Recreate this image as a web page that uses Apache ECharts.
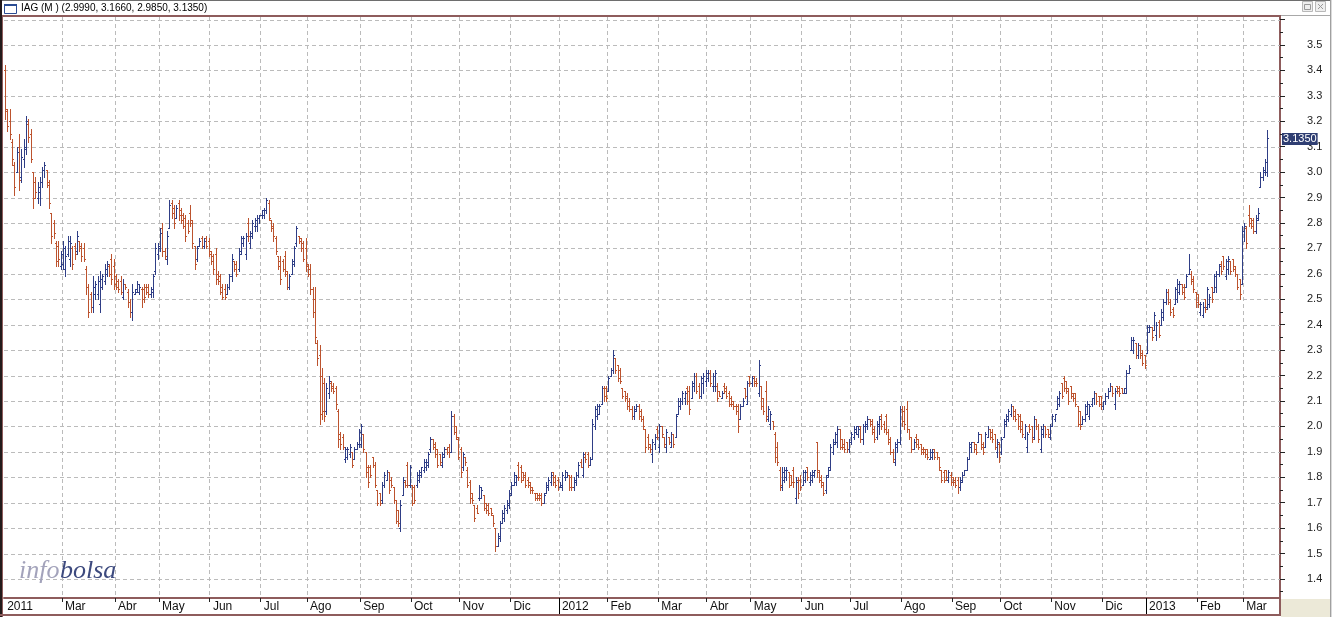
<!DOCTYPE html>
<html><head><meta charset="utf-8">
<script src="https://cdn.jsdelivr.net/npm/echarts@6/dist/echarts.min.js"></script>
<style>html,body{margin:0;padding:0;background:#fff;overflow:hidden}#c{width:1332px;height:617px}</style>
</head><body><div id="c"></div>
<script>
// ---- data ----
const monthLabels = ['2011','Mar','Abr','May','Jun','Jul','Ago','Sep','Oct','Nov','Dic',
  '2012','Feb','Mar','Abr','May','Jun','Jul','Ago','Sep','Oct','Nov','Dic','2013','Feb','Mar'];
const monthLengths = [25,23,19,22,22,20,23,22,21,22,21, 21,22,21,19,22,21,22,22,21,22,22,19, 22,20,11];
const yTickLabels = [1.4,1.5,1.6,1.7,1.8,1.9,2.0,2.1,2.2,2.3,2.4,2.5,2.6,2.7,2.8,2.9,3.0,3.1,3.2,3.3,3.4,3.5];
const yMajorTicks = [1.4,1.5,1.6,1.7,1.8,1.9,2.0,2.1,2.2,2.3,2.4,2.5,2.6,2.7,2.8,2.9,3.0,3.1,3.2,3.3,3.4,3.5,3.6];
const yMinorTicks = [1.35,1.45,1.55,1.65,1.75,1.85,1.95,2.05,2.15,2.25,2.35,2.45,2.55,2.65,2.75,2.85,2.95,3.05,3.15,3.25,3.35,3.45,3.55];
// [open, high, low, close]
const ohlc2011 = [
[3.40,3.42,3.21,3.25],[3.24,3.25,3.16,3.18],[3.20,3.25,3.13,3.15],[3.12,3.13,3.03,3.05],[3.03,3.04,2.91,2.94],
[3.00,3.10,3.00,3.08],[3.10,3.15,2.93,2.97],[2.98,3.09,2.96,3.06],[3.05,3.13,3.02,3.10],[3.09,3.22,3.07,3.20],
[3.19,3.21,3.12,3.14],[3.15,3.17,3.04,3.05],[3.00,3.00,2.86,2.90],[2.96,2.98,2.90,2.92],[2.90,2.96,2.88,2.94],
[2.92,2.98,2.87,2.96],[2.96,3.02,2.94,3.01],[3.01,3.04,2.98,3.03],[3.01,3.01,2.94,2.96],[2.95,2.97,2.86,2.88],
[2.84,2.84,2.72,2.75],[2.80,2.81,2.74,2.76],[2.72,2.73,2.63,2.65],[2.71,2.73,2.63,2.66],[2.63,2.69,2.62,2.68],
[2.64,2.73,2.62,2.70],[2.62,2.71,2.59,2.67],[2.68,2.75,2.67,2.73],[2.66,2.75,2.63,2.72],[2.70,2.71,2.62,2.64],
[2.71,2.72,2.66,2.68],[2.69,2.77,2.68,2.75],[2.73,2.73,2.69,2.70],[2.71,2.72,2.65,2.67],[2.70,2.72,2.65,2.66],
[2.62,2.63,2.52,2.55],[2.55,2.56,2.43,2.45],[2.52,2.53,2.45,2.47],[2.47,2.59,2.45,2.55],[2.52,2.57,2.50,2.56],
[2.52,2.59,2.50,2.57],[2.48,2.61,2.45,2.58],[2.55,2.60,2.54,2.59],[2.57,2.64,2.56,2.62],[2.60,2.65,2.59,2.64],
[2.63,2.64,2.59,2.60],[2.66,2.68,2.56,2.58],[2.63,2.66,2.54,2.56],
[2.59,2.60,2.54,2.55],[2.57,2.58,2.53,2.54],[2.57,2.59,2.52,2.53],[2.51,2.58,2.50,2.56],[2.56,2.56,2.54,2.55],
[2.53,2.54,2.47,2.49],[2.49,2.50,2.43,2.45],[2.45,2.56,2.42,2.53],[2.52,2.54,2.52,2.54],[2.53,2.57,2.53,2.56],
[2.53,2.56,2.52,2.55],[2.54,2.55,2.47,2.50],[2.54,2.56,2.49,2.51],[2.55,2.56,2.52,2.53],[2.55,2.56,2.51,2.52],
[2.52,2.55,2.51,2.54],[2.53,2.60,2.51,2.59],[2.61,2.72,2.60,2.70],[2.68,2.72,2.66,2.71],
[2.70,2.78,2.69,2.76],[2.78,2.80,2.67,2.69],[2.69,2.70,2.66,2.67],[2.66,2.77,2.64,2.75],[2.78,2.89,2.78,2.87],
[2.88,2.89,2.82,2.84],[2.86,2.87,2.78,2.80],[2.82,2.87,2.82,2.86],[2.88,2.89,2.81,2.83],[2.85,2.86,2.80,2.81],
[2.83,2.84,2.78,2.79],[2.82,2.83,2.73,2.75],[2.80,2.81,2.76,2.77],[2.84,2.87,2.79,2.81],[2.80,2.81,2.70,2.72],
[2.71,2.71,2.62,2.64],[2.66,2.71,2.65,2.70],[2.71,2.74,2.71,2.73],[2.74,2.75,2.70,2.71],[2.71,2.74,2.70,2.73],
[2.74,2.75,2.70,2.71],[2.73,2.74,2.67,2.68],
[2.69,2.69,2.64,2.65],[2.67,2.68,2.60,2.62],[2.68,2.70,2.56,2.58],[2.60,2.61,2.56,2.57],[2.59,2.60,2.52,2.53],
[2.55,2.56,2.50,2.51],[2.54,2.56,2.50,2.51],[2.52,2.56,2.52,2.55],[2.55,2.60,2.54,2.59],[2.59,2.68,2.57,2.66],
[2.65,2.65,2.61,2.62],[2.64,2.65,2.59,2.60],[2.62,2.70,2.61,2.68],[2.69,2.75,2.68,2.74],[2.72,2.75,2.71,2.74],
[2.68,2.76,2.66,2.75],[2.80,2.82,2.73,2.75],[2.72,2.77,2.70,2.76],[2.75,2.81,2.74,2.80],[2.79,2.82,2.77,2.81],
[2.79,2.83,2.77,2.82],[2.82,2.83,2.80,2.83],
[2.83,2.85,2.82,2.85],[2.83,2.86,2.82,2.85],[2.85,2.90,2.84,2.89],[2.88,2.89,2.81,2.82],[2.81,2.81,2.77,2.78],
[2.79,2.80,2.73,2.75],[2.74,2.75,2.68,2.69],[2.67,2.67,2.62,2.63],[2.65,2.67,2.56,2.58],[2.65,2.66,2.61,2.62],
[2.67,2.69,2.59,2.61],[2.60,2.61,2.54,2.55],[2.55,2.60,2.54,2.59],[2.60,2.66,2.60,2.65],[2.64,2.71,2.63,2.70],
[2.72,2.79,2.71,2.78],[2.75,2.75,2.72,2.73],[2.74,2.74,2.69,2.70],[2.72,2.73,2.65,2.66],[2.70,2.74,2.61,2.63],
[2.64,2.64,2.59,2.60],[2.62,2.64,2.52,2.54],[2.54,2.55,2.43,2.45],[2.50,2.55,2.33,2.35],[2.33,2.34,2.24,2.27],
[2.28,2.32,2.01,2.05],[2.20,2.23,2.03,2.06],[2.17,2.19,2.02,2.04],[2.06,2.17,2.05,2.15],[2.13,2.20,2.11,2.18],
[2.17,2.18,2.14,2.15],[2.16,2.17,2.13,2.14],[2.15,2.16,2.07,2.09],[2.06,2.07,1.92,1.95],[1.97,1.98,1.91,1.93],
[1.96,1.97,1.91,1.92],[1.87,1.92,1.86,1.91],[1.88,1.92,1.87,1.91],[1.89,1.93,1.88,1.92],[1.90,1.90,1.84,1.85],
[1.87,1.92,1.87,1.91],[1.91,1.94,1.91,1.93],[1.93,1.99,1.92,1.98],
[1.93,2.01,1.92,2.00],[1.97,1.97,1.90,1.91],[1.90,1.90,1.80,1.82],[1.84,1.85,1.76,1.78],[1.84,1.85,1.80,1.81],
[1.88,1.88,1.84,1.85],[1.85,1.86,1.76,1.77],[1.75,1.75,1.69,1.70],[1.74,1.74,1.69,1.70],[1.71,1.78,1.70,1.77],
[1.77,1.82,1.76,1.81],[1.79,1.83,1.79,1.82],[1.82,1.82,1.74,1.75],[1.79,1.80,1.76,1.77],[1.76,1.76,1.70,1.71],
[1.71,1.71,1.62,1.63],[1.67,1.67,1.61,1.62],[1.60,1.71,1.59,1.69],[1.73,1.80,1.73,1.79],[1.78,1.79,1.76,1.77],
[1.85,1.86,1.76,1.77],[1.77,1.85,1.76,1.84],
[1.77,1.77,1.69,1.70],[1.76,1.77,1.70,1.71],[1.77,1.82,1.76,1.81],[1.79,1.83,1.78,1.82],[1.81,1.84,1.80,1.84],
[1.83,1.87,1.82,1.86],[1.84,1.87,1.83,1.86],[1.85,1.90,1.84,1.89],[1.91,1.96,1.90,1.95],[1.95,1.95,1.91,1.92],
[1.93,1.94,1.88,1.89],[1.91,1.91,1.84,1.85],[1.89,1.89,1.85,1.86],[1.85,1.90,1.84,1.89],[1.88,1.92,1.88,1.91],
[1.91,1.92,1.89,1.90],[1.92,1.93,1.88,1.90],[1.90,2.06,1.90,2.04],[2.04,2.05,1.97,1.98],[2.00,2.00,1.95,1.96],
[1.95,1.96,1.87,1.88],
[1.91,1.92,1.80,1.82],[1.84,1.90,1.83,1.89],[1.88,1.88,1.85,1.86],[1.83,1.84,1.76,1.77],[1.78,1.79,1.70,1.72],
[1.74,1.74,1.70,1.71],[1.69,1.69,1.63,1.64],[1.68,1.69,1.66,1.66],[1.72,1.77,1.71,1.76],[1.72,1.76,1.72,1.75],
[1.73,1.73,1.67,1.68],[1.70,1.70,1.66,1.67],[1.69,1.70,1.65,1.66],[1.68,1.68,1.65,1.66],[1.65,1.65,1.61,1.62],
[1.60,1.60,1.51,1.53],[1.53,1.58,1.53,1.57],[1.56,1.63,1.55,1.62],[1.62,1.67,1.62,1.66],[1.64,1.69,1.63,1.68],
[1.67,1.71,1.66,1.70],[1.69,1.75,1.68,1.74],
[1.73,1.78,1.73,1.77],[1.77,1.82,1.77,1.81],[1.78,1.81,1.77,1.80],[1.85,1.86,1.79,1.80],[1.84,1.85,1.78,1.79],
[1.82,1.82,1.79,1.80],[1.81,1.82,1.76,1.77],[1.79,1.80,1.76,1.77],[1.78,1.78,1.74,1.75],[1.76,1.76,1.74,1.75],
[1.74,1.74,1.71,1.72],[1.74,1.74,1.71,1.72],[1.73,1.74,1.71,1.72],[1.73,1.74,1.69,1.70],[1.70,1.74,1.70,1.73],
[1.74,1.78,1.74,1.77],[1.76,1.80,1.75,1.79],[1.78,1.82,1.77,1.81],[1.82,1.82,1.77,1.78],[1.80,1.81,1.76,1.77],
[1.79,1.80,1.75,1.76]
];
const ohlc2012 = [
[1.76,1.78,1.76,1.77],[1.76,1.82,1.75,1.81],[1.80,1.83,1.79,1.82],[1.80,1.82,1.80,1.81],[1.81,1.81,1.75,1.76],
[1.80,1.81,1.75,1.76],[1.76,1.80,1.75,1.79],[1.78,1.82,1.77,1.81],[1.81,1.86,1.80,1.85],[1.86,1.87,1.84,1.84],
[1.81,1.90,1.80,1.89],[1.88,1.90,1.86,1.87],[1.89,1.90,1.84,1.85],[1.85,1.88,1.85,1.87],[1.87,2.03,1.87,2.01],
[2.00,2.08,1.99,2.07],[2.04,2.09,2.03,2.08],[2.05,2.09,2.05,2.08],[2.09,2.16,2.09,2.15],[2.15,2.16,2.10,2.12],
[2.15,2.16,2.10,2.11],
[2.14,2.20,2.14,2.19],[2.20,2.23,2.20,2.22],[2.22,2.30,2.21,2.28],[2.27,2.27,2.21,2.22],[2.24,2.24,2.18,2.19],
[2.22,2.23,2.17,2.18],[2.15,2.15,2.11,2.12],[2.14,2.14,2.10,2.11],[2.12,2.13,2.07,2.08],[2.10,2.11,2.06,2.07],
[2.07,2.08,2.03,2.04],[2.04,2.08,2.03,2.07],[2.06,2.09,2.06,2.08],[2.08,2.09,2.03,2.04],[2.06,2.07,2.02,2.03],
[2.03,2.04,1.99,2.00],[1.99,1.99,1.90,1.92],[1.96,1.97,1.91,1.92],[1.93,1.93,1.90,1.91],[1.89,1.95,1.86,1.94],
[1.93,1.97,1.91,1.96],[1.99,2.00,1.95,1.96],
[1.92,2.01,1.90,2.00],[2.00,2.00,1.96,1.97],[1.96,1.96,1.92,1.93],[1.92,1.99,1.90,1.98],[1.96,1.96,1.93,1.94],
[1.92,1.98,1.92,1.97],[1.97,1.97,1.92,1.93],[1.96,2.05,1.96,2.04],[2.05,2.11,2.05,2.10],[2.08,2.11,2.07,2.10],
[2.10,2.14,2.09,2.13],[2.11,2.14,2.09,2.13],[2.15,2.16,2.09,2.10],[2.14,2.16,2.05,2.07],[2.11,2.18,2.11,2.17],
[2.16,2.21,2.14,2.20],[2.20,2.21,2.13,2.14],[2.16,2.17,2.11,2.12],[2.12,2.20,2.11,2.19],[2.17,2.21,2.13,2.20],
[2.18,2.22,2.16,2.21],
[2.19,2.22,2.18,2.21],[2.21,2.22,2.16,2.17],[2.16,2.21,2.14,2.20],[2.16,2.22,2.14,2.21],[2.16,2.17,2.10,2.11],
[2.14,2.14,2.12,2.12],[2.11,2.14,2.11,2.13],[2.16,2.17,2.13,2.14],[2.15,2.16,2.11,2.12],[2.13,2.14,2.08,2.09],
[2.11,2.12,2.08,2.09],[2.10,2.10,2.07,2.08],[2.08,2.09,2.05,2.06],[2.08,2.09,1.98,2.00],[2.03,2.09,2.03,2.08],
[2.08,2.11,2.08,2.10],[2.15,2.15,2.11,2.12],[2.09,2.18,2.09,2.17],[2.20,2.20,2.16,2.17],
[2.17,2.20,2.16,2.19],[2.20,2.20,2.16,2.17],[2.18,2.19,2.16,2.17],[2.13,2.26,2.12,2.24],[2.16,2.16,2.07,2.08],
[2.11,2.11,2.05,2.06],[2.14,2.18,2.02,2.04],[2.03,2.08,2.02,2.07],[2.01,2.06,1.99,2.05],[2.02,2.02,1.99,2.00],
[1.97,1.98,1.86,1.88],[1.92,1.94,1.85,1.86],[1.83,1.84,1.75,1.77],[1.76,1.84,1.75,1.82],[1.79,1.84,1.78,1.83],
[1.80,1.84,1.79,1.83],[1.82,1.82,1.76,1.77],[1.81,1.81,1.77,1.78],[1.83,1.84,1.76,1.78],[1.72,1.80,1.70,1.78],
[1.79,1.80,1.72,1.74],[1.79,1.81,1.75,1.76],
[1.77,1.83,1.77,1.82],[1.79,1.83,1.78,1.82],[1.84,1.84,1.79,1.80],[1.78,1.82,1.77,1.81],[1.79,1.83,1.78,1.82],
[1.81,1.83,1.80,1.83],[1.94,1.94,1.80,1.82],[1.83,1.83,1.78,1.79],[1.80,1.81,1.76,1.77],[1.78,1.78,1.73,1.74],
[1.75,1.81,1.74,1.80],[1.81,1.84,1.80,1.83],[1.84,1.93,1.83,1.92],[1.90,1.95,1.89,1.94],[1.93,1.98,1.93,1.97],
[1.94,2.00,1.92,1.99],[1.99,1.99,1.91,1.92],[1.95,1.95,1.91,1.92],[1.93,1.95,1.90,1.91],[1.94,1.94,1.90,1.91],
[1.91,1.95,1.90,1.94],
[1.94,1.98,1.93,1.97],[1.96,2.00,1.95,1.99],[1.98,2.00,1.97,2.00],[1.97,2.00,1.96,1.99],[2.00,2.00,1.94,1.95],
[1.95,2.01,1.93,2.00],[2.00,2.02,1.98,2.01],[2.00,2.04,1.99,2.03],[2.03,2.03,2.00,2.01],[2.02,2.03,1.97,1.98],
[1.99,2.00,1.94,1.95],[1.96,2.02,1.95,2.01],[2.00,2.04,1.97,2.03],[2.04,2.05,1.99,2.00],[2.01,2.02,1.98,1.99],
[2.04,2.05,1.97,1.98],[1.98,1.99,1.93,1.94],[1.95,1.96,1.89,1.90],[1.90,1.91,1.86,1.87],[1.86,1.94,1.85,1.93],
[1.92,1.95,1.90,1.94],[1.94,2.08,1.93,2.07],
[2.07,2.08,2.00,2.02],[2.06,2.08,1.99,2.01],[2.07,2.10,1.98,1.99],[1.99,1.99,1.95,1.96],[1.96,1.96,1.90,1.91],
[1.91,1.95,1.91,1.94],[1.96,1.97,1.92,1.93],[1.95,1.95,1.91,1.92],[1.93,1.93,1.89,1.90],[1.91,1.92,1.89,1.90],
[1.91,1.91,1.88,1.89],[1.91,1.91,1.87,1.88],[1.87,1.91,1.87,1.90],[1.88,1.91,1.87,1.90],[1.91,1.91,1.87,1.88],
[1.90,1.90,1.87,1.88],[1.88,1.88,1.83,1.84],[1.83,1.83,1.78,1.79],[1.82,1.83,1.78,1.79],[1.83,1.83,1.79,1.80],
[1.79,1.83,1.78,1.82],[1.81,1.82,1.77,1.78],
[1.80,1.80,1.77,1.78],[1.79,1.80,1.76,1.77],[1.79,1.80,1.74,1.76],[1.76,1.80,1.75,1.79],[1.78,1.82,1.78,1.81],
[1.81,1.83,1.81,1.83],[1.83,1.88,1.83,1.87],[1.87,1.94,1.87,1.93],[1.92,1.94,1.90,1.94],[1.94,1.94,1.90,1.91],
[1.93,1.93,1.89,1.90],[1.94,1.98,1.94,1.97],[1.97,1.97,1.91,1.92],[1.93,1.94,1.89,1.90],[1.92,1.98,1.92,1.97],
[1.96,2.00,1.96,1.99],[1.99,1.99,1.95,1.96],[1.98,1.99,1.94,1.95],[1.97,1.97,1.91,1.92],[1.90,1.95,1.88,1.94],
[1.93,1.94,1.86,1.88],
[1.90,1.96,1.89,1.95],[1.96,2.03,1.96,2.02],[2.01,2.05,2.00,2.04],[2.03,2.07,2.02,2.06],[2.05,2.09,2.04,2.08],
[2.08,2.08,2.03,2.04],[2.06,2.07,2.02,2.03],[2.05,2.05,1.99,2.00],[2.04,2.05,1.98,1.99],[2.02,2.02,1.96,1.97],
[1.96,2.01,1.95,2.00],[1.92,1.98,1.90,1.97],[2.00,2.01,1.98,1.99],[2.00,2.00,1.94,1.95],[1.96,2.04,1.95,2.03],
[2.03,2.03,1.99,2.00],[2.00,2.01,1.94,1.95],[1.91,2.00,1.90,1.99],[1.97,2.01,1.96,2.00],[2.00,2.00,1.96,1.97],
[1.99,1.99,1.96,1.97],[1.96,2.01,1.95,2.00],
[2.00,2.05,2.00,2.04],[2.03,2.05,2.02,2.05],[2.07,2.12,2.07,2.11],[2.09,2.14,2.08,2.13],[2.17,2.17,2.11,2.12],
[2.19,2.20,2.14,2.15],[2.18,2.18,2.13,2.14],[2.15,2.15,2.09,2.10],[2.16,2.16,2.11,2.12],[2.13,2.13,2.10,2.11],
[2.13,2.13,2.08,2.09],[2.08,2.08,2.00,2.01],[2.06,2.06,1.99,2.00],[2.01,2.04,2.01,2.03],[2.03,2.09,2.02,2.08],
[2.05,2.10,2.05,2.09],[2.04,2.09,2.03,2.08],[2.09,2.11,2.08,2.11],[2.11,2.14,2.09,2.13],[2.13,2.13,2.09,2.10],
[2.12,2.12,2.08,2.09],[2.12,2.12,2.07,2.08],
[2.08,2.10,2.07,2.10],[2.10,2.13,2.09,2.12],[2.12,2.15,2.11,2.14],[2.14,2.17,2.14,2.16],[2.16,2.16,2.12,2.13],
[2.09,2.15,2.07,2.14],[2.16,2.16,2.13,2.14],[2.15,2.16,2.12,2.13],[2.15,2.15,2.13,2.13],[2.13,2.15,2.13,2.15],
[2.13,2.22,2.13,2.21],[2.21,2.24,2.21,2.23],[2.30,2.35,2.30,2.34],[2.30,2.35,2.29,2.34],[2.33,2.33,2.27,2.28],
[2.28,2.33,2.27,2.32],[2.32,2.32,2.27,2.28],[2.29,2.30,2.24,2.25],[2.28,2.28,2.23,2.24]
];
const ohlc2013 = [
[2.29,2.40,2.29,2.39],[2.37,2.40,2.37,2.39],[2.39,2.39,2.34,2.35],[2.38,2.45,2.38,2.44],[2.36,2.41,2.34,2.40],
[2.41,2.42,2.35,2.36],[2.40,2.46,2.40,2.45],[2.43,2.50,2.42,2.49],[2.49,2.54,2.48,2.53],[2.53,2.54,2.48,2.49],
[2.49,2.50,2.44,2.45],[2.46,2.47,2.43,2.44],[2.48,2.55,2.48,2.54],[2.50,2.58,2.49,2.56],[2.53,2.57,2.52,2.56],
[2.56,2.56,2.52,2.53],[2.55,2.56,2.50,2.51],[2.55,2.60,2.55,2.59],[2.60,2.68,2.60,2.62],[2.60,2.61,2.56,2.57],
[2.58,2.59,2.53,2.54],[2.53,2.53,2.47,2.49],
[2.52,2.52,2.47,2.48],[2.45,2.49,2.44,2.48],[2.44,2.49,2.43,2.47],[2.50,2.50,2.45,2.46],[2.47,2.55,2.46,2.54],
[2.48,2.52,2.47,2.51],[2.55,2.55,2.49,2.50],[2.53,2.60,2.53,2.59],[2.55,2.61,2.53,2.60],[2.60,2.64,2.59,2.63],
[2.64,2.65,2.60,2.61],[2.67,2.67,2.62,2.63],[2.59,2.66,2.58,2.65],[2.62,2.67,2.60,2.66],[2.65,2.65,2.60,2.61],
[2.66,2.66,2.61,2.62],[2.63,2.63,2.59,2.60],[2.60,2.60,2.54,2.55],[2.58,2.58,2.50,2.52],[2.56,2.79,2.56,2.77],
[2.77,2.80,2.73,2.79],[2.78,2.79,2.70,2.72],[2.83,2.87,2.79,2.80],[2.82,2.82,2.78,2.79],[2.81,2.82,2.76,2.77],
[2.77,2.83,2.76,2.82],[2.81,2.86,2.81,2.84],[2.94,3.00,2.94,2.98],[2.98,3.02,2.97,3.01],[3.00,3.05,2.99,3.04],
[2.999,3.166,2.985,3.135]
];

// ---- derived structure ----
const bars = ohlc2011.concat(ohlc2012, ohlc2013);
const N_CAT = 552;
const categories = Array.from({length: N_CAT}, (_, i) => String(i));
const starts = []; let acc = 0;
monthLengths.forEach(n => { starts.push(acc); acc += n; });
const labelAt = {}; starts.forEach((s, k) => { labelAt[s] = monthLabels[k]; });
const yearStarts = new Set(starts.filter((s, k) => s > 0 && /^\d{4}$/.test(monthLabels[k])));
const last = bars[bars.length - 1];
const titleText = 'IAG (M ) (' + last.map(v => v.toFixed(4)).join(', ') + ')';

const UP = '#2F3E86', DOWN = '#BC532E', GRIDC = '#BBBBBB', FRAME = '#8E5C5C';
const FONT = '"Liberation Sans", Arial, sans-serif';
const YMIN = 1.32528, YMAX = 3.61011;

const chart = echarts.init(document.getElementById('c'), null, {renderer: 'canvas'});
const R = (x, y, w, h, fill, extra) => Object.assign({type: 'rect', shape: {x, y, width: w, height: h}, style: {fill}, z: 100, silent: true}, extra || {});

chart.setOption({
  animation: false,
  backgroundColor: '#fff',
  grid: {left: 4, right: 52, top: 17, bottom: 19, containLabel: false, outerBoundsMode: 'none'},
  xAxis: [{
    type: 'category', data: categories, boundaryGap: true,
    axisLine: {show: true, lineStyle: {color: FRAME, width: 2}},
    axisTick: {show: true, interval: (i) => (i in labelAt) && i > 0 && !yearStarts.has(i), length: 4, lineStyle: {color: '#222', width: 1}},
    axisLabel: {show: true, interval: (i) => (i in labelAt), formatter: (v, i) => labelAt[i] || '',
      align: 'left', padding: [0, 0, 0, 2], margin: 3, fontSize: 12, color: '#111', fontFamily: FONT},
    splitLine: {show: true, interval: (i) => (i in labelAt) && i > 0, lineStyle: {color: GRIDC, width: 1, type: [4, 3]}}
  }, {
    type: 'category', data: categories, boundaryGap: true, gridIndex: 0, position: 'bottom',
    axisLine: {show: false},
    axisTick: {show: true, interval: (i) => yearStarts.has(i), length: 16, lineStyle: {color: '#000', width: 1}},
    axisLabel: {show: false}, splitLine: {show: false}
  }],
  yAxis: [{
    type: 'value', position: 'right', min: YMIN, max: YMAX,
    axisLine: {show: true, lineStyle: {color: FRAME, width: 2}},
    axisTick: {show: true, customValues: yMajorTicks, length: 5, lineStyle: {color: '#222'}},
    axisLabel: {show: true, customValues: yTickLabels, formatter: (v) => Number(v).toFixed(1), margin: 27, fontSize: 11, color: '#222', fontFamily: FONT},
    splitLine: {show: false}
  }, {
    type: 'value', position: 'right', min: YMIN, max: YMAX,
    axisLine: {show: false},
    axisTick: {show: true, customValues: yMinorTicks, length: 3, lineStyle: {color: '#222'}},
    axisLabel: {show: false}, splitLine: {show: false}
  }],
  series: [{
    type: 'custom', name: 'grid', z: 1, silent: true, xAxisIndex: 0, yAxisIndex: 0,
    data: yMajorTicks.map(v => [0, v]),
    encode: {x: 0, y: 1},
    renderItem: (params, api) => {
      const cs = params.coordSys;
      const y = Math.round(api.coord([0, api.value(1)])[1]) + 0.5;
      return {type: 'line', shape: {x1: cs.x, y1: y, x2: cs.x + cs.width, y2: y},
        style: {stroke: GRIDC, lineWidth: 1, lineDash: [4, 3]}};
    }
  }, {
    type: 'custom', name: 'IAG', z: 3, silent: true, xAxisIndex: 0, yAxisIndex: 0,
    data: bars.map((b, i) => [i, b[0], b[1], b[2], b[3]]),
    encode: {x: 0, y: [1, 2, 3, 4]},
    renderItem: (params, api) => {
      const i = api.value(0), o = api.value(1), h = api.value(2), l = api.value(3), c = api.value(4);
      const pH = api.coord([i, h]), pL = api.coord([i, l]), pO = api.coord([i, o]), pC = api.coord([i, c]);
      const px = Math.round(pH[0]);
      const col = c >= o ? UP : DOWN;
      const yo = Math.round(pO[1]) + 0.5, yc = Math.round(pC[1]) + 0.5;
      const st = {stroke: col, lineWidth: 1};
      return {type: 'group', children: [
        {type: 'line', shape: {x1: px + 0.5, y1: Math.round(pH[1]), x2: px + 0.5, y2: Math.round(pL[1]) + 1}, style: st},
        {type: 'line', shape: {x1: px - 1, y1: yo, x2: px, y2: yo}, style: st},
        {type: 'line', shape: {x1: px + 1, y1: yc, x2: px + 2, y2: yc}, style: st}
      ]};
    }
  }, {
    type: 'line', name: 'last', data: [], xAxisIndex: 0, yAxisIndex: 0, silent: true,
    markLine: {
      silent: true, symbol: ['none', 'none'], animation: false,
      lineStyle: {color: 'rgba(0,0,0,0)', width: 1},
      label: {show: true, position: 'end', distance: 2, formatter: last[3].toFixed(4),
        color: '#fff', backgroundColor: '#2F3E72', fontSize: 11, fontFamily: FONT,
        padding: [1, 1, 0, 1], lineHeight: 11},
      emphasis: {disabled: true},
      data: [{yAxis: last[3]}]
    }
  }],
  graphic: [
    R(0, 0, 1332, 1, '#6E6E6E'),
    R(0, 15, 1281, 2, FRAME),
    R(1281, 15, 51, 1, '#A8A8A8'),
    {type: 'rect', shape: {x: 4.5, y: 4.5, width: 12, height: 9}, style: {fill: '#fff', stroke: '#2A4C93', lineWidth: 1}, z: 100, silent: true},
    R(4, 4, 13, 2, '#2A4C93'),
    {type: 'text', x: 21, y: 8, style: {text: titleText, font: '10px ' + FONT, fill: '#000', verticalAlign: 'middle'}, z: 100, silent: true},
    {type: 'rect', shape: {x: 1302.5, y: 1.5, width: 10, height: 10}, style: {fill: '#EEEEEE', stroke: '#B8B8B8', lineWidth: 1}, z: 100, silent: true},
    {type: 'rect', shape: {x: 1315.5, y: 1.5, width: 10, height: 10}, style: {fill: '#EEEEEE', stroke: '#B8B8B8', lineWidth: 1}, z: 100, silent: true},
    {type: 'rect', shape: {x: 1304.5, y: 4.5, width: 6, height: 5}, style: {fill: 'none', stroke: '#999', lineWidth: 1}, z: 101, silent: true},
    {type: 'line', shape: {x1: 1318, y1: 4, x2: 1323, y2: 9}, style: {stroke: '#999', lineWidth: 1}, z: 101, silent: true},
    {type: 'line', shape: {x1: 1323, y1: 4, x2: 1318, y2: 9}, style: {stroke: '#999', lineWidth: 1}, z: 101, silent: true},
    R(0, 0, 2, 617, '#231A1A'),
    R(2, 15, 1, 602, FRAME),
    R(0, 614, 1281, 2, FRAME),
    R(1279, 597, 2, 19, FRAME),
    R(1281, 599, 49, 18, '#ECE9D8'),
    R(1330, 0, 1, 617, '#A0A0A0'),
    R(1331, 0, 1, 617, '#DADADA'),
    {type: 'text', x: 19, y: 571, style: {text: 'info', font: 'italic 26px "Liberation Serif", serif', fill: '#A3A3BB', verticalAlign: 'middle'}, z: 100, silent: true},
    {type: 'text', x: 60, y: 571, style: {text: 'bolsa', font: 'italic 26px "Liberation Serif", serif', fill: '#3D4A7E', verticalAlign: 'middle'}, z: 100, silent: true}
  ]
});
</script>
</body></html>
